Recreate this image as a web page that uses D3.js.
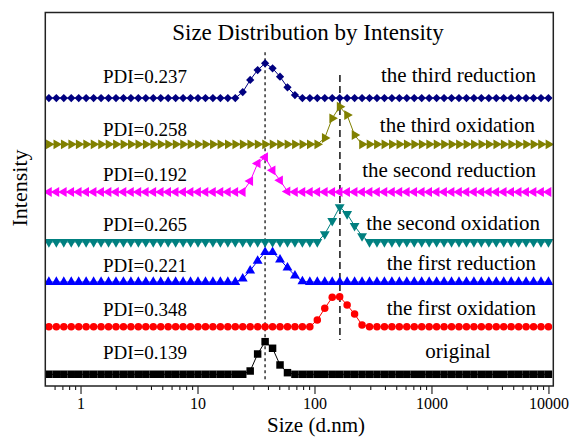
<!DOCTYPE html>
<html>
<head>
<meta charset="utf-8">
<script src="https://d3js.org/d3.v7.min.js"></script>
<style>
  body { margin: 0; background: #fff; }
  svg text { font-family: "Liberation Serif", "DejaVu Serif", serif !important; fill: #000; }
</style>
</head>
<body>
<div id="d3-container"></div>
<script>
// DLS size bins (d.nm)
const sizes = [0.4, 0.4632, 0.5365, 0.6213, 0.7195, 0.8332, 0.9649, 1.117, 1.294, 1.499,
    1.736, 2.01, 2.328, 2.696, 3.122, 3.615, 4.187, 4.849, 5.615, 6.503,
    7.531, 8.721, 10.1, 11.7, 13.54, 15.69, 18.17, 21.04, 24.36, 28.21,
    32.67, 37.84, 43.82, 50.75, 58.77, 68.06, 78.82, 91.28, 105.7, 122.4,
    141.8, 164.2, 190.1, 220.2, 255.0, 295.3, 342.0, 396.1, 458.7, 531.2,
    615.1, 712.4, 825.0, 955.4, 1106, 1281, 1484, 1718, 1990, 2305,
    2669, 3091, 3580, 4145, 4801, 5560, 6439, 7456, 8635, 10000];

// intensity (%) for each bin
const original = [0, 0, 0, 0, 0, 0, 0, 0, 0, 0,
    0, 0, 0, 0, 0, 0, 0, 0, 0, 0,
    0, 0, 0, 0, 0, 0, 0, 0, 0, 2.7,
    16.3, 26.2, 20.9, 7.5, 1.3, 0, 0, 0, 0, 0,
    0, 0, 0, 0, 0, 0, 0, 0, 0, 0,
    0, 0, 0, 0, 0, 0, 0, 0, 0, 0,
    0, 0, 0, 0, 0, 0, 0, 0, 0, 0];
const firstOxidation = [0, 0, 0, 0, 0, 0, 0, 0, 0, 0,
    0, 0, 0, 0, 0, 0, 0, 0, 0, 0,
    0, 0, 0, 0, 0, 0, 0, 0, 0, 0,
    0, 0, 0, 0, 0, 0, 0, 0, 5.4, 14.8,
    23.6, 24.1, 17.4, 10.2, 1.4, 0, 0, 0, 0, 0,
    0, 0, 0, 0, 0, 0, 0, 0, 0, 0,
    0, 0, 0, 0, 0, 0, 0, 0, 0, 0];
const firstReduction = [0, 0, 0, 0, 0, 0, 0, 0, 0, 0,
    0, 0, 0, 0, 0, 0, 0, 0, 0, 0,
    0, 0, 0, 0, 0, 0, 0, 0, 2.7, 9.2,
    17, 24, 24, 18, 11.5, 5.2, 0.5, 0, 0, 0,
    0, 0, 0, 0, 0, 0, 0, 0, 0, 0,
    0, 0, 0, 0, 0, 0, 0, 0, 0, 0,
    0, 0, 0, 0, 0, 0, 0, 0, 0, 0];
const secondOxidation = [0, 0, 0, 0, 0, 0, 0, 0, 0, 0,
    0, 0, 0, 0, 0, 0, 0, 0, 0, 0,
    0, 0, 0, 0, 0, 0, 0, 0, 0, 0,
    0, 0, 0, 0, 0, 0, 0, 0, 0, 6.4,
    16.9, 28.1, 22.5, 12.9, 4.8, 0, 0, 0, 0, 0,
    0, 0, 0, 0, 0, 0, 0, 0, 0, 0,
    0, 0, 0, 0, 0, 0, 0, 0, 0, 0];
const secondReduction = [0, 0, 0, 0, 0, 0, 0, 0, 0, 0,
    0, 0, 0, 0, 0, 0, 0, 0, 0, 0,
    0, 0, 0, 0, 0, 0, 0, 0, 0, 8.8,
    23, 27.9, 17.4, 9.4, 0.5, 0, 0, 0, 0, 0,
    0, 0, 0, 0, 0, 0, 0, 0, 0, 0,
    0, 0, 0, 0, 0, 0, 0, 0, 0, 0,
    0, 0, 0, 0, 0, 0, 0, 0, 0, 0];
const thirdOxidation = [0, 0, 0, 0, 0, 0, 0, 0, 0, 0,
    0, 0, 0, 0, 0, 0, 0, 0, 0, 0,
    0, 0, 0, 0, 0, 0, 0, 0, 0, 0,
    0, 0, 0, 0, 0, 0, 0, 0, 0, 5.1,
    20.9, 30.2, 23.5, 7.5, 0, 0, 0, 0, 0, 0,
    0, 0, 0, 0, 0, 0, 0, 0, 0, 0,
    0, 0, 0, 0, 0, 0, 0, 0, 0, 0];
const thirdReduction = [0, 0, 0, 0, 0, 0, 0, 0, 0, 0,
    0, 0, 0, 0, 0, 0, 0, 0, 0, 0,
    0, 0, 0, 0, 0, 0, 0, 0, 4.8, 14.5,
    22.5, 27.9, 23.9, 17.1, 8.6, 2.4, 0, 0, 0, 0,
    0, 0, 0, 0, 0, 0, 0, 0, 0, 0,
    0, 0, 0, 0, 0, 0, 0, 0, 0, 0,
    0, 0, 0, 0, 0, 0, 0, 0, 0, 0];

const seriesNames = ["original", "the first oxidation", "the first reduction", "the second oxidation",
    "the second reduction", "the third oxidation", "the third reduction"];
const pdiLabels = ["PDI=0.139", "PDI=0.348", "PDI=0.221", "PDI=0.265", "PDI=0.192", "PDI=0.258", "PDI=0.237"];
const offsets = [9.4, 47.6, 83.5, 115.7, 155.8, 194.1, 231.3];   // vertical stacking offset
const refLines = [37.8, 165];                                    // dashed guide lines (d.nm)
const xTickValues = [1, 10, 100, 1000, 10000];

const allSeries = [original, firstOxidation, firstReduction, secondOxidation,
    secondReduction, thirdOxidation, thirdReduction];

// styles
const serif = '"Liberation Serif", "DejaVu Serif", serif';
const colors = ["#000000", "#ff0000", "#0000ff", "#008080", "#ff00ff", "#808000", "#000080"];
const symbols = [
    { type: d3.symbolSquare, size: 56, rot: 0 },
    { type: d3.symbolCircle, size: 44, rot: 0 },
    { type: d3.symbolTriangle, size: 42, rot: 0 },
    { type: d3.symbolTriangle, size: 42, rot: 180 },
    { type: d3.symbolTriangle, size: 42, rot: -90 },
    { type: d3.symbolTriangle, size: 42, rot: 90 },
    { type: d3.symbolSquare, size: 34, rot: 45 }
];
const pdiY = [359, 316, 272, 231, 181, 136, 83];
const labelPos = [[458, 358, "middle"], [536, 315, "end"], [536, 270, "end"], [540, 230, "end"],
    [536, 177, "end"], [535, 132, "end"], [536, 82, "end"]];

const width = 573;
const height = 437;
const plot = { left: 45.3, right: 553.3, top: 12.5, bottom: 386 };

const svg = d3.select('#d3-container')
    .append('svg')
    .attr('width', width)
    .attr('height', height)
    .attr('font-family', serif);

const x = d3.scaleLog()
    .domain([0.5, 11000])
    .range([plot.left, plot.right]);

const y = d3.scaleLinear()
    .domain([0, 300])
    .range([plot.bottom, plot.top]);

svg.append("clipPath")
    .attr("id", "clip")
    .append("rect")
    .attr("x", plot.left)
    .attr("y", plot.top)
    .attr("width", plot.right - plot.left)
    .attr("height", plot.bottom - plot.top);

// guide lines
svg.append("line")
    .attr("x1", x(refLines[0])).attr("x2", x(refLines[0]))
    .attr("y1", y(268)).attr("y2", y(4.8))
    .attr("stroke", "#000").attr("stroke-width", 1.2)
    .attr("stroke-dasharray", "3,3");
svg.append("line")
    .attr("x1", x(refLines[1])).attr("x2", x(refLines[1]))
    .attr("y1", y(249.8)).attr("y2", y(37))
    .attr("stroke", "#000").attr("stroke-width", 1.4)
    .attr("stroke-dasharray", "7,4");

const g = svg.append("g").attr("clip-path", "url(#clip)");

allSeries.forEach(function (vals, k) {
    const pts = vals.map((v, i) => ({ s: sizes[i], v: v + offsets[k] }));
    const line = d3.line().x(d => x(d.s)).y(d => y(d.v));

    g.append("path")
        .datum(pts)
        .attr("fill", "none")
        .attr("stroke", colors[k])
        .attr("stroke-width", 1)
        .attr("d", line);

    const sym = d3.symbol().type(symbols[k].type).size(symbols[k].size);
    g.append("g")
        .attr("fill", colors[k])
        .selectAll("path")
        .data(pts)
        .join("path")
        .attr("transform", d => `translate(${x(d.s)},${y(d.v)}) rotate(${symbols[k].rot})`)
        .attr("d", sym);

    svg.append("text")
        .attr("x", 145)
        .attr("y", pdiY[k])
        .attr("text-anchor", "middle")
        .attr("font-size", "19px")
        .text(pdiLabels[k]);

    svg.append("text")
        .attr("x", labelPos[k][0])
        .attr("y", labelPos[k][1])
        .attr("text-anchor", labelPos[k][2])
        .attr("font-size", "21px")
        .text(seriesNames[k]);
});

// x axis: major + minor ticks
const minorTicks = x.ticks().filter(t => xTickValues.indexOf(t) < 0 && t > 0.5);

svg.append("g")
    .attr("transform", `translate(0,${plot.bottom})`)
    .call(d3.axisBottom(x).tickValues(minorTicks).tickSize(4).tickFormat(""))
    .call(g => g.select(".domain").remove());

svg.append("g")
    .attr("transform", `translate(0,${plot.bottom})`)
    .call(d3.axisBottom(x).tickValues(xTickValues).tickSize(8).tickPadding(4).tickFormat(d3.format("d")))
    .attr("font-size", "16px")
    .attr("font-family", serif)
    .call(g => g.select(".domain").remove());

svg.selectAll(".tick line").attr("stroke", "#000").attr("stroke-width", 1);

// frame
svg.append("rect")
    .attr("x", plot.left)
    .attr("y", plot.top)
    .attr("width", plot.right - plot.left)
    .attr("height", plot.bottom - plot.top)
    .attr("fill", "none")
    .attr("stroke", "#222")
    .attr("stroke-width", 1.5);

svg.append("text")
    .attr("x", 308)
    .attr("y", 40)
    .attr("text-anchor", "middle")
    .attr("font-size", "23px")
    .text("Size Distribution by Intensity");

svg.append("text")
    .attr("x", 316)
    .attr("y", 432)
    .attr("text-anchor", "middle")
    .attr("font-size", "21px")
    .text("Size (d.nm)");

svg.append("text")
    .attr("transform", "translate(27,188) rotate(-90)")
    .attr("text-anchor", "middle")
    .attr("font-size", "22px")
    .text("Intensity");
</script>
</body>
</html>
